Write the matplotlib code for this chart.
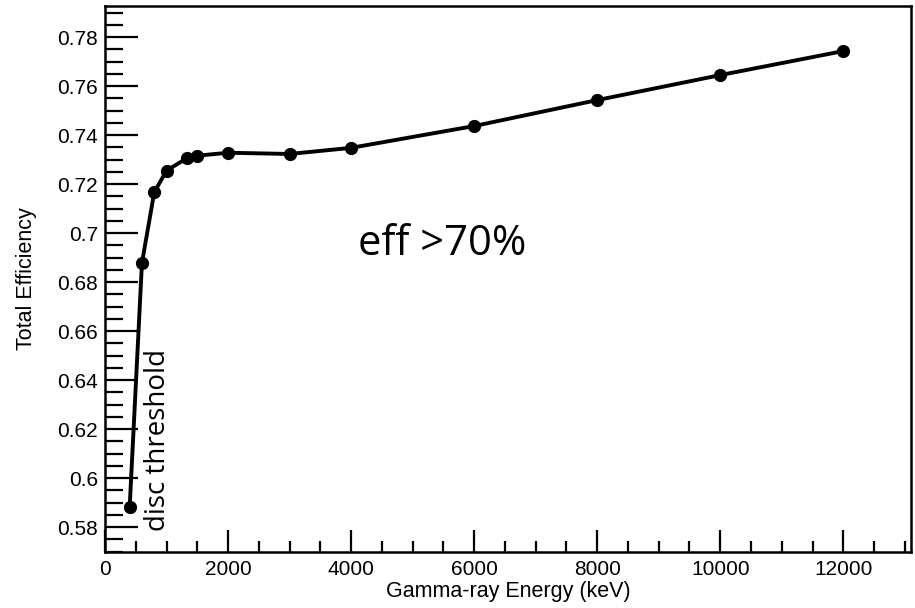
import matplotlib
matplotlib.use("Agg")
import matplotlib.pyplot as plt
from matplotlib.ticker import MultipleLocator, FuncFormatter

energy_kev = [400, 600, 800, 1000, 1332, 1500, 2000, 3000, 4000, 6000, 8000, 10000, 12000]
efficiency = [0.588, 0.6878, 0.7167, 0.7255, 0.7306, 0.7316, 0.7328, 0.7323, 0.7348, 0.7437, 0.7543, 0.7645, 0.7743]

x_label = "Gamma-ray Energy (keV)"
y_label = "Total Efficiency"
note_eff = "eff >70%"
note_disc = "disc threshold"

fig = plt.figure(figsize=(9.15, 6.08), dpi=100)
ax = fig.add_axes([0.1148, 0.0921, 0.8808, 0.898])

ax.plot(energy_kev, efficiency, color="black", lw=2.8, marker="o", ms=8.5, zorder=3)

ax.set_xlim(0, 13100)
ax.set_ylim(0.5698, 0.7927)

ax.xaxis.set_major_locator(MultipleLocator(2000))
ax.xaxis.set_minor_locator(MultipleLocator(500))
ax.yaxis.set_major_locator(MultipleLocator(0.02))
ax.yaxis.set_minor_locator(MultipleLocator(0.005))


def yfmt(v, pos):
    s = f"{v:.2f}"
    if s.endswith("0"):
        s = s[:-1]
    return s


ax.yaxis.set_major_formatter(FuncFormatter(yfmt))

ax.tick_params(axis="both", which="both", direction="in", top=False, right=False, color="black", width=1.6)
ax.tick_params(axis="x", which="major", length=16, pad=6)
ax.tick_params(axis="x", which="minor", length=8)
ax.tick_params(axis="y", which="major", length=24, pad=5)
ax.tick_params(axis="y", which="minor", length=13)
for lab in ax.get_xticklabels() + ax.get_yticklabels():
    lab.set_fontfamily("Liberation Sans")
    lab.set_fontsize(15)

for s in ax.spines.values():
    s.set_linewidth(1.8)

ax.set_xlabel(x_label, fontfamily="Liberation Sans", fontsize=15.5, labelpad=1)
ax.set_ylabel(y_label, fontfamily="Liberation Sans", fontsize=15.5, labelpad=15)

fig.text(442 / 915, 1 - 244 / 608, note_eff, fontfamily="Open Sans", fontsize=30,
         ha="center", va="center")
fig.text(158 / 915, 1 - 440 / 608, note_disc, fontfamily="Open Sans", fontsize=20,
         ha="center", va="center", rotation=90)

fig.savefig("out.png", dpi=100)
